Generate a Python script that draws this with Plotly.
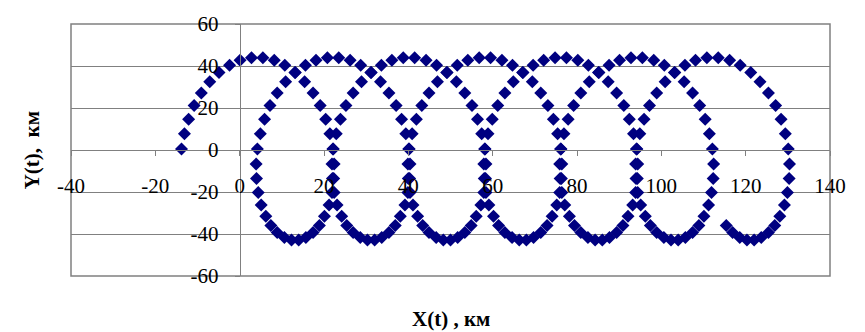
import plotly.graph_objects as go

# Trajectory points, one list per loop (km)
x_loop1 = [-13.8, -13.1, -12.1, -10.8, -9.1, -7.1, -4.9, -2.4, 0.1, 2.8, 5.5, 8.2, 10.7, 13.2, 15.4, 17.4, 19.1, 20.4, 21.4, 22.1, 22.4, 22.3, 21.9, 21.2, 20.1, 18.9, 17.4, 15.7, 14.0, 12.3, 10.6, 8.9, 7.4, 6.2, 5.1, 4.4, 4.0, 3.9]
x_loop2 = [4.2, 4.9, 5.9, 7.2, 8.9, 10.9, 13.1, 15.6, 18.1, 20.8, 23.5, 26.2, 28.7, 31.2, 33.4, 35.4, 37.1, 38.4, 39.4, 40.1, 40.4, 40.3, 39.9, 39.2, 38.1, 36.9, 35.4, 33.7, 32.0, 30.3, 28.6, 26.9, 25.4, 24.2, 23.1, 22.4, 22.0, 21.9]
x_loop3 = [22.2, 22.9, 23.9, 25.2, 26.9, 28.9, 31.1, 33.6, 36.1, 38.8, 41.5, 44.2, 46.7, 49.2, 51.4, 53.4, 55.1, 56.4, 57.4, 58.1, 58.4, 58.3, 57.9, 57.2, 56.1, 54.9, 53.4, 51.7, 50.0, 48.3, 46.6, 44.9, 43.4, 42.2, 41.1, 40.4, 40.0, 39.9]
x_loop4 = [40.2, 40.9, 41.9, 43.2, 44.9, 46.9, 49.1, 51.6, 54.1, 56.8, 59.5, 62.2, 64.7, 67.2, 69.4, 71.4, 73.1, 74.4, 75.4, 76.1, 76.4, 76.3, 75.9, 75.2, 74.1, 72.9, 71.4, 69.7, 68.0, 66.3, 64.6, 62.9, 61.4, 60.2, 59.1, 58.4, 58.0, 57.9]
x_loop5 = [58.2, 58.9, 59.9, 61.2, 62.9, 64.9, 67.1, 69.6, 72.1, 74.8, 77.5, 80.2, 82.7, 85.2, 87.4, 89.4, 91.1, 92.4, 93.4, 94.1, 94.4, 94.3, 93.9, 93.2, 92.1, 90.9, 89.4, 87.7, 86.0, 84.3, 82.6, 80.9, 79.4, 78.2, 77.1, 76.4, 76.0, 75.9]
x_loop6 = [76.2, 76.9, 77.9, 79.2, 80.9, 82.9, 85.1, 87.6, 90.1, 92.8, 95.5, 98.2, 100.7, 103.2, 105.4, 107.4, 109.1, 110.4, 111.4, 112.1, 112.4, 112.3, 111.9, 111.2, 110.1, 108.9, 107.4, 105.7, 104.0, 102.3, 100.6, 98.9, 97.4, 96.2, 95.1, 94.4, 94.0, 93.9]
x_loop7 = [94.2, 94.9, 95.9, 97.2, 98.9, 100.9, 103.1, 105.6, 108.1, 110.8, 113.5, 116.2, 118.7, 121.2, 123.4, 125.4, 127.1, 128.4, 129.4, 130.1, 130.4, 130.3, 129.9, 129.2, 128.1, 126.9, 125.4, 123.7, 122.0, 120.3, 118.6, 116.9, 115.4]

y_loop1 = [0.5, 7.7, 14.6, 21.2, 27.2, 32.5, 36.9, 40.3, 42.7, 43.9, 43.9, 42.7, 40.3, 36.9, 32.5, 27.2, 21.2, 14.6, 7.7, 0.5, -6.7, -13.6, -20.2, -26.2, -31.5, -35.9, -39.3, -41.7, -42.9, -42.9, -41.7, -39.3, -35.9, -31.5, -26.2, -20.2, -13.6, -6.7]
y_loop2 = [0.5, 7.7, 14.6, 21.2, 27.2, 32.5, 36.9, 40.3, 42.7, 43.9, 43.9, 42.7, 40.3, 36.9, 32.5, 27.2, 21.2, 14.6, 7.7, 0.5, -6.7, -13.6, -20.2, -26.2, -31.5, -35.9, -39.3, -41.7, -42.9, -42.9, -41.7, -39.3, -35.9, -31.5, -26.2, -20.2, -13.6, -6.7]
y_loop3 = [0.5, 7.7, 14.6, 21.2, 27.2, 32.5, 36.9, 40.3, 42.7, 43.9, 43.9, 42.7, 40.3, 36.9, 32.5, 27.2, 21.2, 14.6, 7.7, 0.5, -6.7, -13.6, -20.2, -26.2, -31.5, -35.9, -39.3, -41.7, -42.9, -42.9, -41.7, -39.3, -35.9, -31.5, -26.2, -20.2, -13.6, -6.7]
y_loop4 = [0.5, 7.7, 14.6, 21.2, 27.2, 32.5, 36.9, 40.3, 42.7, 43.9, 43.9, 42.7, 40.3, 36.9, 32.5, 27.2, 21.2, 14.6, 7.7, 0.5, -6.7, -13.6, -20.2, -26.2, -31.5, -35.9, -39.3, -41.7, -42.9, -42.9, -41.7, -39.3, -35.9, -31.5, -26.2, -20.2, -13.6, -6.7]
y_loop5 = [0.5, 7.7, 14.6, 21.2, 27.2, 32.5, 36.9, 40.3, 42.7, 43.9, 43.9, 42.7, 40.3, 36.9, 32.5, 27.2, 21.2, 14.6, 7.7, 0.5, -6.7, -13.6, -20.2, -26.2, -31.5, -35.9, -39.3, -41.7, -42.9, -42.9, -41.7, -39.3, -35.9, -31.5, -26.2, -20.2, -13.6, -6.7]
y_loop6 = [0.5, 7.7, 14.6, 21.2, 27.2, 32.5, 36.9, 40.3, 42.7, 43.9, 43.9, 42.7, 40.3, 36.9, 32.5, 27.2, 21.2, 14.6, 7.7, 0.5, -6.7, -13.6, -20.2, -26.2, -31.5, -35.9, -39.3, -41.7, -42.9, -42.9, -41.7, -39.3, -35.9, -31.5, -26.2, -20.2, -13.6, -6.7]
y_loop7 = [0.5, 7.7, 14.6, 21.2, 27.2, 32.5, 36.9, 40.3, 42.7, 43.9, 43.9, 42.7, 40.3, 36.9, 32.5, 27.2, 21.2, 14.6, 7.7, 0.5, -6.7, -13.6, -20.2, -26.2, -31.5, -35.9, -39.3, -41.7, -42.9, -42.9, -41.7, -39.3, -35.9]

x_ticks = [-40, -20, 0, 20, 40, 60, 80, 100, 120, 140]
y_ticks = [-60, -40, -20, 0, 20, 40, 60]

x_title = "X(t) , км"
y_title = "Y(t),  км"

x_all = x_loop1 + x_loop2 + x_loop3 + x_loop4 + x_loop5 + x_loop6 + x_loop7
y_all = y_loop1 + y_loop2 + y_loop3 + y_loop4 + y_loop5 + y_loop6 + y_loop7

NAVY = "#000080"
GRAY = "#808080"
FONT = "Liberation Serif"

fig = go.Figure()
fig.add_trace(go.Scatter(
    x=x_all, y=y_all, mode="markers",
    marker=dict(symbol="diamond", size=10, color=NAVY, line=dict(width=0)),
    showlegend=False, hoverinfo="x+y",
))

fig.update_layout(
    width=865, height=332,
    margin=dict(l=71, r=35, t=18, b=56),
    paper_bgcolor="white", plot_bgcolor="white",
    font=dict(family=FONT, color="black"),
    xaxis=dict(
        range=[-40, 140], tickvals=x_ticks, ticktext=[str(v) for v in x_ticks],
        showgrid=False, zeroline=False,
        showline=True, linecolor=GRAY, linewidth=1,
        anchor="free", position=0.5, side="bottom",
        ticks="outside", ticklen=5, tickcolor=GRAY,
        tickfont=dict(family=FONT, size=21, color="black"),
        ticklabelstandoff=12,
    ),
    yaxis=dict(
        range=[-60, 60], tickvals=y_ticks, ticktext=[str(v) for v in y_ticks],
        showgrid=True, gridcolor=GRAY, gridwidth=1, zeroline=False,
        showline=True, linecolor=GRAY, linewidth=1,
        anchor="free", position=40 / 180, side="left",
        ticks="outside", ticklen=5, tickcolor=GRAY,
        tickfont=dict(family=FONT, size=21, color="black"),
        ticklabelstandoff=12,
    ),
    shapes=[dict(type="rect", xref="paper", yref="paper", x0=0, y0=0, x1=1, y1=1,
                 line=dict(color=GRAY, width=1.5), layer="below")],
    annotations=[
        dict(text="<b>" + x_title + "</b>", xref="paper", yref="paper", x=0.5, y=-0.17,
             xanchor="center", yanchor="middle", showarrow=False,
             font=dict(family=FONT, size=21, color="black")),
        dict(text="<b>" + y_title + "</b>", xref="paper", yref="paper", x=-0.051, y=0.5,
             xanchor="center", yanchor="middle", textangle=-90, showarrow=False,
             font=dict(family=FONT, size=21, color="black")),
    ],
)

fig.write_html("out.html")
